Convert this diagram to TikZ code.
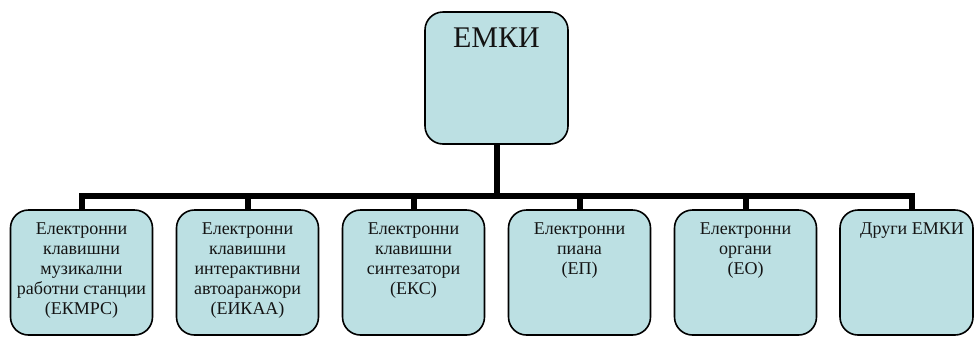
\documentclass[tikz,border=0pt]{standalone}
\usepackage{fontspec}
\setmainfont{Liberation Serif}
\definecolor{boxfill}{RGB}{188,224,227}
\definecolor{txt}{RGB}{20,20,20}
\newcommand{\boxtext}[3]{\begin{minipage}[t][#1][t]{#2}\centering #3\end{minipage}}
\tikzset{
  orgbox/.style={draw=black, line width=1.6pt, fill=boxfill, text=txt, rounded corners=18pt, inner sep=0pt, outer sep=0pt},
  topbox/.style={orgbox, minimum width=143pt, minimum height=132pt, font=\fontsize{30}{34}\selectfont},
  leafbox/.style={orgbox, minimum width=142pt, minimum height=125pt, font=\fontsize{18}{20}\selectfont},
  conn/.style={line width=6pt}
}
\begin{document}
\begin{tikzpicture}[x=1pt,y=-1pt]
\useasboundingbox (0,0) rectangle (974,338);
\node[topbox] (top) at (496.5,78) {\boxtext{100pt}{140pt}{ЕМКИ}};
\node[leafbox] (b1) at (81.5,272.5) {\boxtext{99pt}{140pt}{Електронни\\клавишни\\музикални\\работни станции\\(ЕКМРС)}};
\node[leafbox] (b2) at (247.5,272.5) {\boxtext{99pt}{140pt}{Електронни\\клавишни\\интерактивни\\автоаранжори\\(ЕИКАА)}};
\node[leafbox] (b3) at (413.5,272.5) {\boxtext{99pt}{140pt}{Електронни\\клавишни\\синтезатори\\(ЕКС)}};
\node[leafbox] (b4) at (579.5,272.5) {\boxtext{99pt}{140pt}{Електронни\\пиана\\(ЕП)}};
\node[leafbox] (b5) at (745.5,272.5) {\boxtext{99pt}{140pt}{Електронни\\органи\\(ЕО)}};
\node[leafbox, minimum width=133pt] (b6) at (906.5,272.5) {\boxtext{99pt}{131pt}{\hspace*{11pt}Други ЕМКИ}};
\coordinate (busy) at (0,196);
\coordinate (b6top) at ([xshift=5.5pt]b6.north);
\draw[conn] (top.south) -- (top.south |- busy);
\draw[conn, line join=miter] (b1.north) -- (b1.north |- busy) -- (b6top |- busy) -- (b6top);
\foreach \b in {b2,b3,b4,b5}{
  \draw[conn] (\b.north) -- (\b.north |- busy);
}
\end{tikzpicture}
\end{document}
